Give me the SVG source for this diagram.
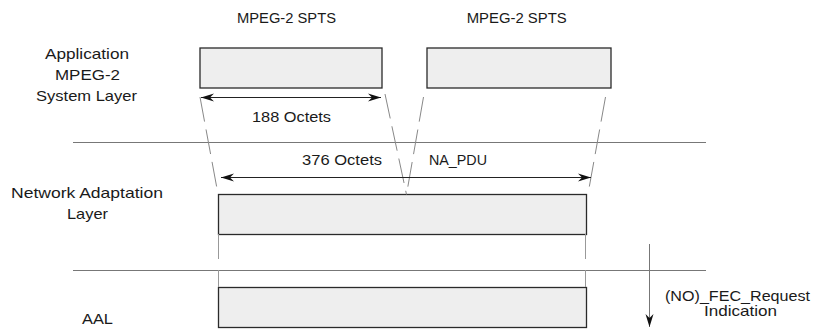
<svg xmlns="http://www.w3.org/2000/svg" width="815" height="329" viewBox="0 0 815 329">
<style>
text{font-family:"Liberation Sans",Arial,sans-serif;font-size:14.5px;fill:#1a1a1a}
.box{fill:#eeeeee;stroke:#2a2a2a;stroke-width:1.3}
.sep{stroke:#777;stroke-width:1;fill:none}
.dash{stroke:#888;stroke-width:1;fill:none;stroke-dasharray:25 8}
.vl{stroke:#999;stroke-width:1;fill:none}
.dim{stroke:#222;stroke-width:1.2;fill:none}
</style>
<defs>
<marker id="ah" viewBox="0 0 14 10" refX="13" refY="5" markerWidth="14" markerHeight="10" markerUnits="userSpaceOnUse" orient="auto-start-reverse">
<path d="M0,1 L13,5 L0,9 L4,5 z" fill="#111"/>
</marker>
</defs>
<rect width="815" height="329" fill="#fff"/>
<g id="labels">
<text x="286.5" y="23" text-anchor="middle" textLength="99" lengthAdjust="spacingAndGlyphs">MPEG-2 SPTS</text>
<text x="516.7" y="23" text-anchor="middle" textLength="100" lengthAdjust="spacingAndGlyphs">MPEG-2 SPTS</text>
<text x="87" y="59" text-anchor="middle" textLength="84" lengthAdjust="spacingAndGlyphs">Application</text>
<text x="87.5" y="80" text-anchor="middle" textLength="65" lengthAdjust="spacingAndGlyphs">MPEG-2</text>
<text x="86.5" y="101" text-anchor="middle" textLength="101" lengthAdjust="spacingAndGlyphs">System Layer</text>
<text x="87" y="198" text-anchor="middle" textLength="152" lengthAdjust="spacingAndGlyphs">Network Adaptation</text>
<text x="87.5" y="219" text-anchor="middle" textLength="41" lengthAdjust="spacingAndGlyphs">Layer</text>
<text x="97.5" y="324" text-anchor="middle" textLength="31" lengthAdjust="spacingAndGlyphs">AAL</text>
</g>
<g id="node-spts1"><rect class="box" x="200" y="48" width="182" height="40"/></g>
<g id="node-spts2"><rect class="box" x="427" y="48" width="184" height="40"/></g>
<g id="node-nal"><rect class="box" x="218.5" y="194.5" width="368" height="40"/></g>
<g id="node-aal"><rect class="box" x="218.5" y="287.5" width="368" height="40"/></g>
<g id="connectors">
<line class="sep" x1="73" y1="142.5" x2="706" y2="142.5"/>
<line class="sep" x1="73" y1="270.5" x2="706" y2="270.5"/>
<path class="dash" d="M200,97 L218,194"/>
<path class="dash" d="M385,94 L406.5,194.5"/>
<path class="dash" d="M423.5,97 L406.5,194.5"/>
<path class="dash" d="M605.5,97 L588,194"/>
<path class="vl" d="M218.5,234 V259 M218.5,270 V287"/>
<path class="vl" d="M585.5,234 V259 M585.5,270 V287"/>
<line class="dim" x1="201" y1="97.5" x2="381" y2="97.5" marker-start="url(#ah)" marker-end="url(#ah)"/>
<line class="dim" x1="221" y1="177.5" x2="591" y2="177.5" marker-start="url(#ah)" marker-end="url(#ah)"/>
<line class="sep" x1="649.5" y1="244" x2="649.5" y2="327" stroke="#555" marker-end="url(#ah)"/>
<text x="291.5" y="122" text-anchor="middle" textLength="79" lengthAdjust="spacingAndGlyphs">188 Octets</text>
<text x="342" y="165" text-anchor="middle" textLength="80" lengthAdjust="spacingAndGlyphs">376 Octets</text>
<text x="429" y="165" textLength="58" lengthAdjust="spacingAndGlyphs">NA_PDU</text>
<text x="665" y="301" textLength="145" lengthAdjust="spacingAndGlyphs">(NO)_FEC_Request</text>
<text x="740.5" y="316" text-anchor="middle" textLength="73" lengthAdjust="spacingAndGlyphs">Indication</text>
</g>
</svg>
